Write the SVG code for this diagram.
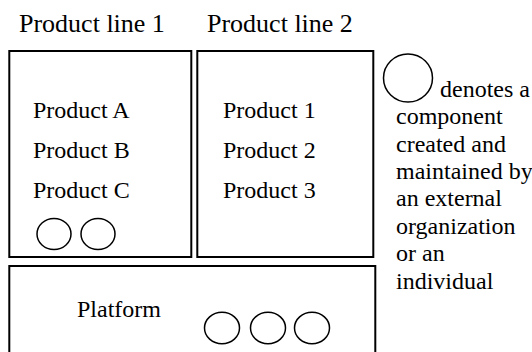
<svg xmlns="http://www.w3.org/2000/svg" width="532" height="352" viewBox="0 0 532 352">
<style>
  .title { font-size: 26px; }
  .item { font-size: 24px; }
  .box { fill: #fff; stroke: #000; stroke-width: 2; }
  .comp { fill: none; stroke: #000; stroke-width: 1.5; }
</style>
<rect x="0" y="0" width="532" height="352" fill="#fff"/>
<g font-family="'Liberation Serif', 'DejaVu Serif', 'Times New Roman', serif" fill="#000">
<g id="productLine1">
  <text class="title" x="19" y="32">Product line 1</text>
  <rect class="box" x="9.3" y="51" width="182" height="206"/>
  <text class="item" x="33" y="118">Product A</text>
  <text class="item" x="33" y="158">Product B</text>
  <text class="item" x="33" y="198">Product C</text>
  <ellipse class="comp" cx="54" cy="234" rx="17" ry="15.5"/>
  <ellipse class="comp" cx="98" cy="234" rx="17" ry="15.5"/>
</g>
<g id="productLine2">
  <text class="title" x="207" y="32">Product line 2</text>
  <rect class="box" x="197.3" y="51" width="176" height="206"/>
  <text class="item" x="223" y="118">Product 1</text>
  <text class="item" x="223" y="158">Product 2</text>
  <text class="item" x="223" y="198">Product 3</text>
</g>
<g id="platform">
  <rect class="box" x="9.3" y="266" width="366" height="100"/>
  <text class="item" x="77" y="317">Platform</text>
  <ellipse class="comp" cx="222" cy="328" rx="17.5" ry="15.7"/>
  <ellipse class="comp" cx="268" cy="328" rx="17.5" ry="15.7"/>
  <ellipse class="comp" cx="312" cy="328" rx="17.5" ry="15.7"/>
</g>
<g id="legend">
  <ellipse class="comp" cx="408" cy="78" rx="24.5" ry="24"/>
  <text class="item" x="440" y="97">denotes a</text>
  <text class="item" x="396" y="124">component</text>
  <text class="item" x="396" y="152">created and</text>
  <text class="item" x="396" y="179">maintained by</text>
  <text class="item" x="396" y="206">an external</text>
  <text class="item" x="396" y="234">organization</text>
  <text class="item" x="396" y="261">or an</text>
  <text class="item" x="396" y="289">individual</text>
</g>
</g>
<g id="connectors"></g>
</svg>
